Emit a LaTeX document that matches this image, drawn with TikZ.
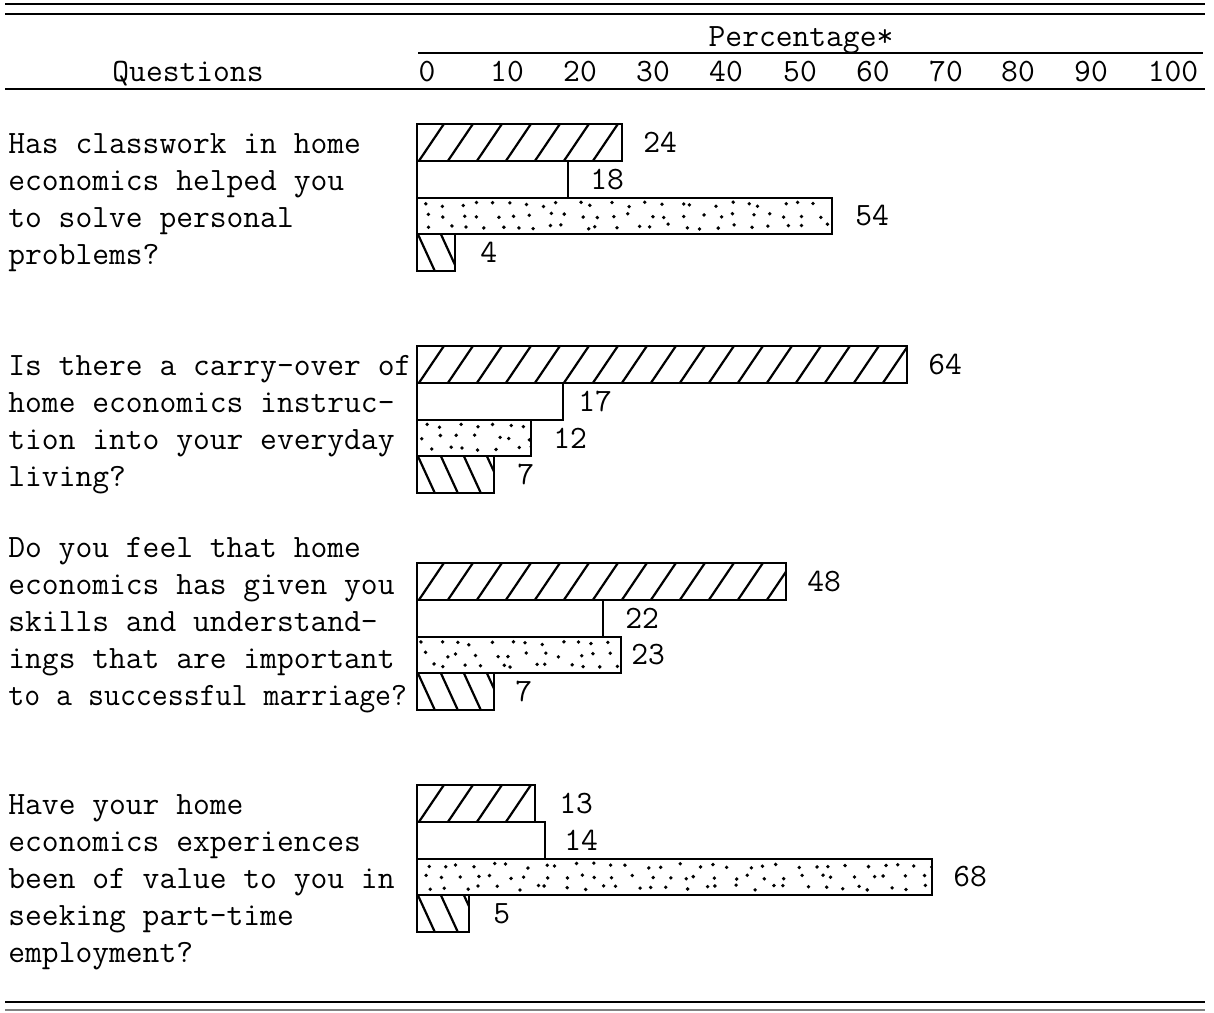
\documentclass[tikz,border=0pt]{standalone}
\usepackage{graphicx}
\usetikzlibrary{positioning}

\tikzset{
  hrule/.style={line width=1.1pt},
  bar/.style={draw, line width=1pt},
  hatch/.style={line width=1.1pt},
  fwd/.style={path picture={
      \foreach \i in {2,31,...,640}
        \draw[hatch] (path picture bounding box.south west) ++(\i,0) -- ++(25,-37);}},
  bwd/.style={path picture={
      \foreach \i in {1,24,...,640}
        \draw[hatch] (path picture bounding box.north west) ++(\i,0) -- ++(17,37);}},
  stipple/.style={path picture={
      \foreach \i in {0,17,...,640}
        \foreach \j in {7,18,29}
          \fill (path picture bounding box.north west) ++({\i+4+\j/3+rand*6},{\j+rand*2.5}) circle (0.95pt);}},
  txt/.style={font=\ttfamily\fontsize{16.3pt}{18.4pt}\selectfont, inner sep=0pt},
  val/.style={txt, anchor=west},
  quest/.style={txt, anchor=base west, align=left},
}

% one bar of the chart: name, top, right end, pattern, value, x of value
\newcommand{\qbar}[6]{%
  \draw[bar,#4] (417,#2) rectangle (#3,#2+36.8);
  \node[val] (#1) at (#6,#2+18.4) {#5};}

\begin{document}
\begin{tikzpicture}[x=0.5pt, y=-0.5pt]
  \pgfmathsetseed{11}
  \useasboundingbox (0,0) rectangle (1214,1012);

  % rules of the table
  \draw[hrule, line width=1.4pt] (5,4) -- (1205,4);
  \draw[hrule] (5,14) -- (1205,14);
  \draw[hrule] (418,53) -- (1203,53);
  \draw[hrule] (5,89) -- (1205,89);
  \draw[hrule] (5,1002) -- (1205,1002);
  \draw[hrule, gray, line width=0.8pt] (5,1010) -- (1205,1010);

  % heading
  \node[txt, anchor=base] (pct) at (801,46) {Percentage*};
  \node[txt, anchor=base] (qhead) at (188,81) {Questions};
  \foreach \v/\x in {0/427,10/507,20/580,30/653,40/726,50/800,60/873,70/946,80/1018,90/1091,100/1173}
    \node[txt, anchor=base] (t\v) at (\x,81) {\v};

  % questions (anchored at the baseline of the last line)
  \node[quest] (q1) at (8,264) {Has classwork in home\\economics helped you\\to solve personal\\problems?};
  \node[quest] (q2) at (8,486) {Is there a carry-over of\\home economics instruc-\\tion into your everyday\\living?};
  \node[quest] (q3) at (8,705) {Do you feel that home\\economics has given you\\skills and understand-\\ings that are important\\\scalebox{0.95}[1]{to a successful marriage?}};
  \node[quest] (q4) at (8,962) {Have your home\\economics experiences\\been of value to you in\\seeking part-time\\employment?};

  % bars
  \qbar{a1}{124}{622}{fwd}{24}{643}
  \qbar{b1}{160.8}{568}{}{18}{590}
  \qbar{c1}{197.6}{832}{stipple}{54}{855}
  \qbar{d1}{234.4}{455}{bwd}{4}{480}

  \qbar{a2}{346}{907}{fwd}{64}{928}
  \qbar{b2}{382.8}{563}{}{17}{578}
  \qbar{c2}{419.6}{531}{stipple}{12}{553}
  \qbar{d2}{456.4}{494}{bwd}{7}{517}

  \qbar{a3}{563}{786}{fwd}{48}{807}
  \qbar{b3}{599.8}{603}{}{22}{625}
  \qbar{c3}{636.6}{621}{stipple}{23}{631}
  \qbar{d3}{673.4}{494}{bwd}{7}{515}

  \qbar{a4}{785}{535}{fwd}{13}{559}
  \qbar{b4}{821.8}{545}{}{14}{564}
  \qbar{c4}{858.6}{932}{stipple}{68}{953}
  \qbar{d4}{895.4}{469}{bwd}{5}{493}
\end{tikzpicture}
\end{document}
